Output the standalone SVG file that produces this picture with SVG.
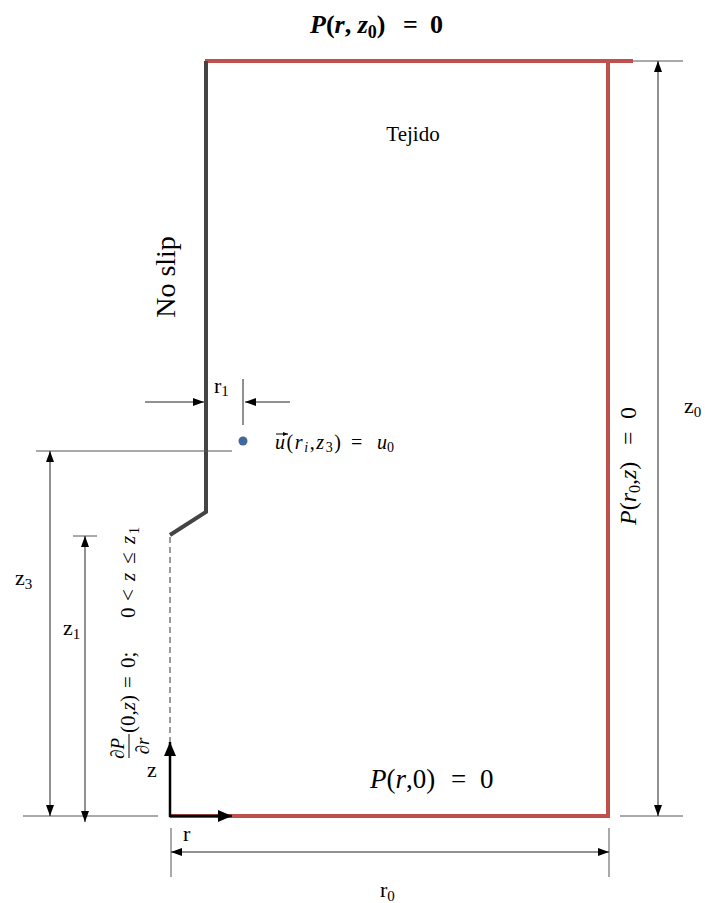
<svg xmlns="http://www.w3.org/2000/svg" width="705" height="903" viewBox="0 0 705 903">
<style>
  .red{stroke:#C0504D;stroke-width:4;fill:none}
  .wall{stroke:#444;stroke-width:4;fill:none;stroke-linejoin:miter}
  .dim{stroke:#222;stroke-width:1;fill:none}
  .ext{stroke:#555;stroke-width:1;fill:none}
  .axis{stroke:#000;stroke-width:2.5;fill:none}
  .t{font-family:"Liberation Serif","Times New Roman",serif;fill:#000}
  .m{font-family:"Liberation Serif","Times New Roman",serif;fill:#000}
  .i{font-style:italic}
  .b{font-weight:bold}
</style>
<defs>
  <marker id="ah" viewBox="0 0 11 8" refX="11" refY="4" markerWidth="11" markerHeight="8" markerUnits="userSpaceOnUse" orient="auto-start-reverse">
    <path d="M0,0 L11,4 L0,8 z" fill="#000"/>
  </marker>
  <marker id="ax" viewBox="0 0 14 12" refX="14" refY="6" markerWidth="14" markerHeight="12" markerUnits="userSpaceOnUse" orient="auto">
    <path d="M0,0 L14,6 L0,12 z" fill="#000"/>
  </marker>
  <marker id="ua" viewBox="0 0 5 4" refX="5" refY="2" markerWidth="5" markerHeight="4" markerUnits="userSpaceOnUse" orient="auto">
    <path d="M0,0 L5,2 L0,4 z" fill="#000"/>
  </marker>
</defs>

<g id="domain">
  <path class="red" d="M205,61 H633"/>
  <path class="red" d="M608,61 V818"/>
  <path class="red" d="M170,816 H610"/>
  <path class="wall" d="M206,61 V512 L170,535"/>
  <path d="M170,537 V744" stroke="#333" stroke-width="1" stroke-dasharray="6,4" fill="none"/>
</g>

<g id="axes">
  <line class="axis" x1="170" y1="817" x2="170" y2="742" marker-end="url(#ax)"/>
  <line class="axis" x1="169" y1="816" x2="232" y2="816" marker-end="url(#ax)"/>
  <text class="t" x="147" y="777" font-size="22">z</text>
  <text class="t" x="183" y="841" font-size="22">r</text>
</g>

<g id="connectors">
  <line class="ext" x1="633" y1="61" x2="683" y2="61"/>
  <line class="ext" x1="620" y1="816" x2="683" y2="816"/>
  <line class="dim" x1="658" y1="61" x2="658" y2="816" marker-start="url(#ah)" marker-end="url(#ah)"/>
  <line class="ext" x1="36" y1="451" x2="232" y2="451"/>
  <line class="ext" x1="23" y1="816" x2="158" y2="816"/>
  <line class="dim" x1="50" y1="451" x2="50" y2="816" marker-start="url(#ah)" marker-end="url(#ah)"/>
  <line class="ext" x1="73" y1="536" x2="97" y2="536"/>
  <line class="dim" x1="85" y1="536" x2="85" y2="822" marker-start="url(#ah)" marker-end="url(#ah)"/>
  <line class="ext" x1="171" y1="828" x2="171" y2="877"/>
  <line class="ext" x1="609" y1="828" x2="609" y2="877"/>
  <line class="dim" x1="171" y1="852" x2="609" y2="852" marker-start="url(#ah)" marker-end="url(#ah)"/>
  <line class="dim" x1="145" y1="402" x2="204" y2="402" marker-end="url(#ah)"/>
  <line class="dim" x1="290" y1="402" x2="245" y2="402" marker-end="url(#ah)"/>
  <line class="dim" x1="243" y1="379" x2="243" y2="425"/>
</g>

<g id="label-top">
  <text class="m b" x="310" y="33" font-size="26"><tspan class="i">P</tspan>(<tspan class="i">r</tspan>, <tspan class="i">z</tspan><tspan dy="5" font-size="18">0</tspan><tspan dy="-5">)</tspan><tspan x="403">=</tspan><tspan x="430">0</tspan></text>
</g>

<g id="label-tejido">
  <text class="t" x="413" y="141" font-size="21" text-anchor="middle">Tejido</text>
</g>

<g id="label-noslip">
  <text class="t" transform="translate(175,277) rotate(-90)" x="0" y="0" font-size="28" text-anchor="middle">No slip</text>
</g>

<g id="label-r1">
  <text class="t" x="214" y="393" font-size="22">r<tspan font-size="15" dy="3">1</tspan></text>
</g>

<g id="source">
  <circle cx="243" cy="441" r="4.5" fill="#41679E"/>
  <line x1="276" y1="434" x2="288" y2="434" stroke="#000" stroke-width="1" marker-end="url(#ua)"/>
  <text class="m" x="275" y="449" font-size="20"><tspan textLength="66" lengthAdjust="spacing"><tspan class="i">u</tspan>(<tspan class="i">r</tspan><tspan class="i" dy="3" font-size="14">i</tspan><tspan dy="-3">,</tspan><tspan class="i">z</tspan><tspan dy="3" font-size="14">3</tspan><tspan dy="-3">)</tspan></tspan><tspan x="351">=</tspan><tspan x="377" class="i">u</tspan><tspan dy="3" font-size="14">0</tspan></text>
</g>

<g id="label-z3">
  <text class="t" x="15" y="585" font-size="22">z<tspan font-size="15" dy="4">3</tspan></text>
</g>
<g id="label-z1">
  <text class="t" x="63" y="635" font-size="22">z<tspan font-size="15" dy="4">1</tspan></text>
</g>
<g id="label-z0">
  <text class="t" x="684" y="413" font-size="22">z<tspan font-size="15" dy="4">0</tspan></text>
</g>
<g id="label-r0">
  <text class="t" x="380" y="897" font-size="22">r<tspan font-size="15" dy="4">0</tspan></text>
</g>

<g id="label-bottom">
  <text class="m" x="370" y="788" font-size="27"><tspan class="i">P</tspan>(<tspan class="i">r</tspan>,0)<tspan x="451">=</tspan><tspan x="480">0</tspan></text>
</g>

<g id="label-right">
  <text class="m" transform="translate(636,462) rotate(-90)" x="-63" y="0" font-size="24"><tspan class="i">P</tspan>(<tspan class="i">r</tspan><tspan dy="4" font-size="16">0</tspan><tspan dy="-4">,</tspan><tspan class="i">z</tspan>)<tspan x="17">=</tspan><tspan x="43">0</tspan></text>
</g>

<g id="label-left">
  <g transform="translate(135,640) rotate(-90)">
    <text class="m" font-size="19" text-anchor="middle">
      <tspan x="-106" y="-11">∂<tspan class="i">P</tspan></tspan>
      <tspan x="-106" y="14">∂<tspan class="i">r</tspan></tspan>
    </text>
    <line x1="-118" y1="-6" x2="-94" y2="-6" stroke="#000" stroke-width="1"/>
    <text class="m" x="-93" y="0" font-size="21">(0,<tspan class="i">z</tspan>)<tspan x="-48">=</tspan><tspan x="-28">0;</tspan><tspan x="22">0</tspan><tspan x="39">&lt;</tspan><tspan x="59" class="i">z</tspan><tspan x="76">≤</tspan><tspan x="96" class="i">z</tspan><tspan x="106" dy="4" font-size="14">1</tspan></text>
  </g>
</g>
</svg>
